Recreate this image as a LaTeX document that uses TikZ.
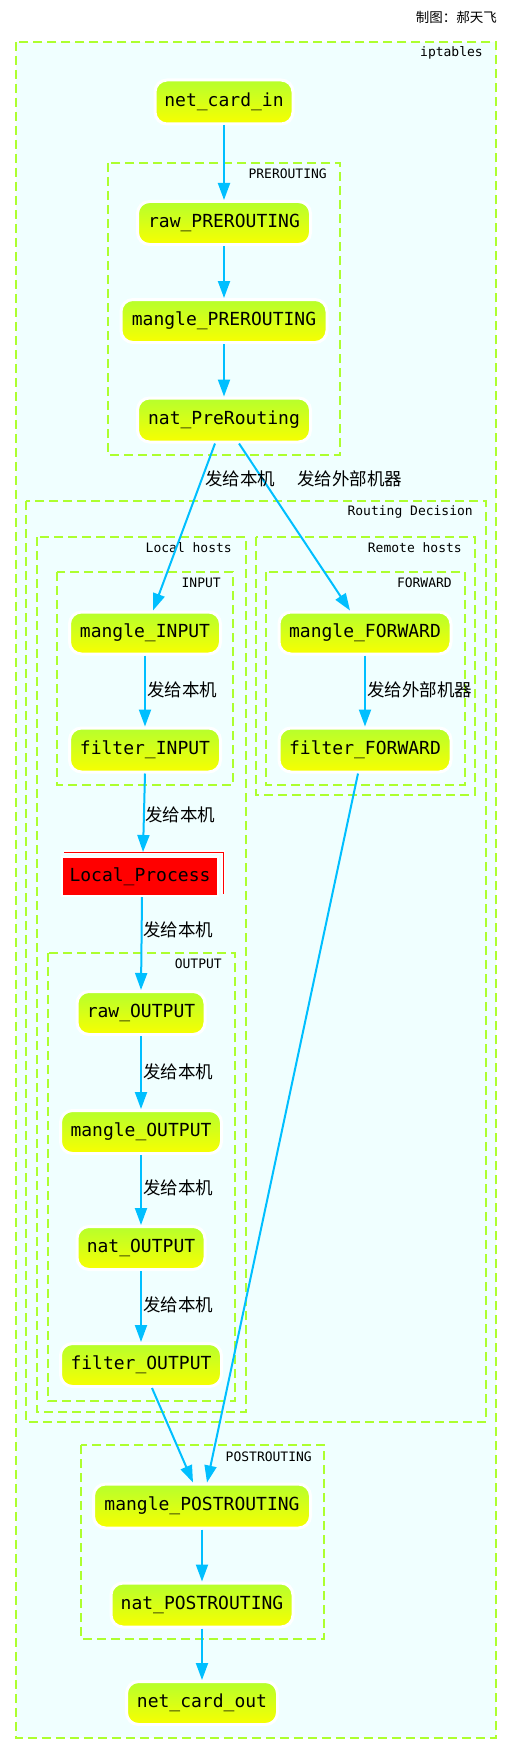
\documentclass[tikz,border=0pt]{standalone}
\usepackage{fontspec}
\newfontfamily\cjk{Noto Sans CJK SC}
\newfontfamily\monof{DejaVu Sans Mono}
\usetikzlibrary{arrows.meta,calc,backgrounds}
\definecolor{gy}{RGB}{173,255,47}
\definecolor{sky}{RGB}{0,191,255}
\definecolor{az}{RGB}{240,255,255}
\definecolor{ntop}{RGB}{182,255,45}
\definecolor{nbot}{RGB}{248,255,0}
\tikzset{
 cl/.style={draw=gy, line width=2.5pt, dash pattern=on 9pt off 5pt},
 cllab/.style={anchor=east, font=\monof\fontsize{13}{15}\selectfont, inner sep=0pt},
 tbl/.style={draw=white, line width=3pt, rounded corners=12pt, top color=ntop, bottom color=nbot, font=\monof\fontsize{18}{20}\selectfont, inner sep=0pt, minimum height=43pt},
 flow/.style={draw=sky, line width=2pt, -{Triangle[length=17pt,width=12pt]}},
 elab/.style={anchor=west, font=\cjk\fontsize{17.5}{19}\selectfont, inner sep=0pt},
}
\begin{document}
\begin{tikzpicture}[x=1pt,y=-1pt]
\useasboundingbox (0,0) rectangle (512,1755);
\fill[white] (0,0) rectangle (512,1755);
% clusters
\draw[cl, fill=az] (16,42) rectangle (496,1738);
\node[cllab] (lipt) at (483,53) {iptables};
\draw[cl] (108,163) rectangle (340,455);
\node[cllab] (lpre) at (327,174) {PREROUTING};
\draw[cl] (26,501) rectangle (486,1422);
\node[cllab] (lrd) at (473,512) {Routing Decision};
\draw[cl] (37,537) rectangle (246,1412);
\node[cllab] (llh) at (232,548) {Local hosts};
\draw[cl] (256,537) rectangle (475,795);
\node[cllab] (lrh) at (462,548) {Remote hosts};
\draw[cl] (57,572) rectangle (233,785);
\node[cllab] (lin) at (221,583) {INPUT};
\draw[cl] (266,572) rectangle (465,785);
\node[cllab] (lfw) at (452,583) {FORWARD};
\draw[cl] (48,953) rectangle (235,1401);
\node[cllab] (lout) at (222,964) {OUTPUT};
\draw[cl] (81,1445) rectangle (324,1639);
\node[cllab] (lpost) at (312,1457) {POSTROUTING};
% title
\node[anchor=east, font=\cjk\fontsize{13.5}{15}\selectfont, inner sep=0pt] (title) at (497,17) {制图：郝天飞};
% nodes
\node[tbl, minimum width=138pt, minimum height=44pt] (netin) at (224,102) {net\_card\_in};
\node[tbl, minimum width=173pt] (rawpre) at (224,223) {raw\_PREROUTING};
\node[tbl, minimum width=206pt] (mangpre) at (224,321) {mangle\_PREROUTING};
\node[tbl, minimum width=173pt, minimum height=44pt] (natpre) at (224,420) {nat\_PreRouting};
\node[tbl, minimum width=151pt, minimum height=42pt] (mangin) at (145,633) {mangle\_INPUT};
\node[tbl, minimum width=151pt, minimum height=44pt] (filterin) at (145,750) {filter\_INPUT};
\node[tbl, minimum width=172pt, minimum height=42pt] (mangfwd) at (365,633) {mangle\_FORWARD};
\node[tbl, minimum width=172pt, minimum height=44pt] (filterfwd) at (365,750) {filter\_FORWARD};
\node[draw=white, line width=2pt, fill=red, minimum width=156pt, minimum height=39pt, inner sep=0pt, font=\monof\fontsize{18}{20}\selectfont] (local) at (140,876.5) {Local\_Process};
\draw[white, line width=3.5pt] ($(local.north west)+(3,-4)$) -- ($(local.north east)+(4,-4)$) -- ($(local.south east)+(4,-3)$);
\draw[red, line width=1pt] ($(local.north west)+(3,-4)$) -- ($(local.north east)+(4,-4)$) -- ($(local.south east)+(4,-3)$);
\node[tbl, minimum width=128pt] (rawout) at (141,1013) {raw\_OUTPUT};
\node[tbl, minimum width=161pt] (mangout) at (141,1132) {mangle\_OUTPUT};
\node[tbl, minimum width=128pt] (natout) at (141,1248) {nat\_OUTPUT};
\node[tbl, minimum width=161pt] (filterout) at (141,1365) {filter\_OUTPUT};
\node[tbl, minimum width=217pt, minimum height=44pt] (mangpost) at (202,1506) {mangle\_POSTROUTING};
\node[tbl, minimum width=182pt, minimum height=44pt] (natpost) at (202,1605) {nat\_POSTROUTING};
\node[tbl, minimum width=151pt] (netout) at (202,1703) {net\_card\_out};
% edges
\draw[flow] (netin.south) -- (rawpre.north);
\draw[flow] (rawpre.south) -- (mangpre.north);
\draw[flow] (mangpre.south) -- (natpre.north);
\draw[flow] ($(natpre.south)+(-9,0)$) -- ($(mangin.north)+(8,0)$);
\draw[flow] ($(natpre.south)+(15,0)$) -- ($(mangfwd.north)+(-15,0)$);
\draw[flow] (mangin.south) -- (filterin.north);
\draw[flow] (mangfwd.south) -- (filterfwd.north);
\draw[flow] (filterin.south) -- ($(local.north)+(3,-4)$);
\draw[flow] ($(local.south)+(2,0)$) -- (rawout.north);
\draw[flow] (rawout.south) -- (mangout.north);
\draw[flow] (mangout.south) -- (natout.north);
\draw[flow] (natout.south) -- (filterout.north);
\draw[flow] ($(filterout.south)+(11,0)$) -- ($(mangpost.north)+(-9,0)$);
\draw[flow] ($(filterfwd.south)+(-7,0)$) -- ($(mangpost.north)+(5,0)$);
\draw[flow] (mangpost.south) -- (natpost.north);
\draw[flow] (natpost.south) -- (netout.north);
% edge labels
\node[elab] (e1) at (205,479) {发给本机};
\node[elab] (e2) at (297,479) {发给外部机器};
\node[elab] (e3) at (147,690) {发给本机};
\node[elab] (e4) at (367,690) {发给外部机器};
\node[elab] (e5) at (145,815) {发给本机};
\node[elab] (e6) at (143,930) {发给本机};
\node[elab] (e7) at (143,1072) {发给本机};
\node[elab] (e8) at (143,1188) {发给本机};
\node[elab] (e9) at (143,1305) {发给本机};
\end{tikzpicture}
\end{document}
